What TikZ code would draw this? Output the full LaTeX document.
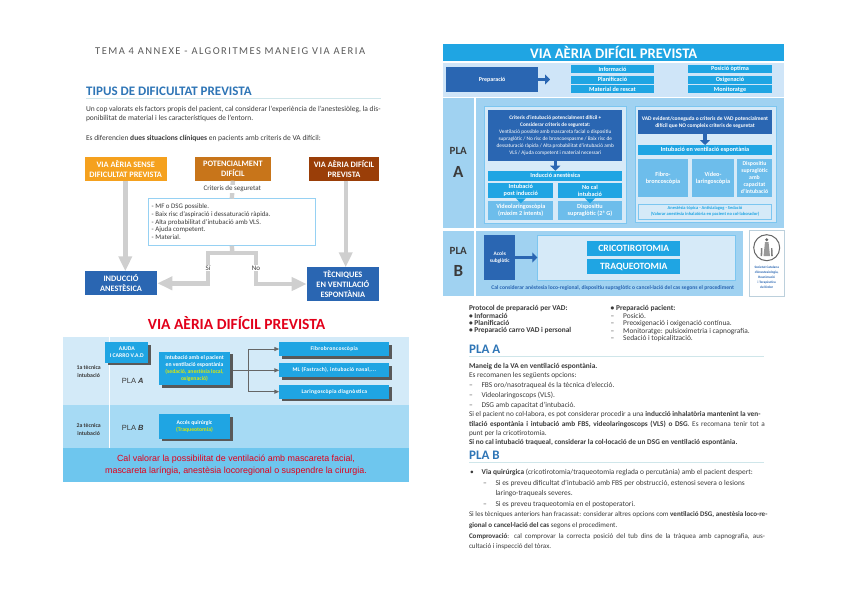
\documentclass[tikz,border=0pt]{standalone}
\usepackage{fontspec}
\setmainfont{Carlito}
\newfontfamily\narrowfont{Liberation Sans}
\usetikzlibrary{arrows.meta, shadows}
\definecolor{vorange}{HTML}{F5A11E}
\definecolor{vochre}{HTML}{C8751A}
\definecolor{vbrown}{HTML}{9A3E08}
\definecolor{vblue}{HTML}{2A66B2}
\definecolor{vcyan}{HTML}{1FA5E3}
\definecolor{vsky}{HTML}{6DBDEB}
\definecolor{vband}{HTML}{A0D2F1}
\definecolor{vpale}{HTML}{D6EAF8}
\definecolor{vprep}{HTML}{CFE5F8}
\definecolor{vrim}{HTML}{7CC6F0}
\definecolor{vgris}{HTML}{CFCFCF}
\definecolor{vhead}{HTML}{2E75B6}
\definecolor{vrule}{HTML}{CFE6EA}
\definecolor{vred}{HTML}{E2001A}
\definecolor{vtext}{HTML}{3A3A3A}
\definecolor{vbandA}{HTML}{D3EAF8}
\definecolor{vbandB}{HTML}{A6DAF4}
\definecolor{vbandC}{HTML}{6EC6EE}
\newcommand{\fsz}[2]{\fontsize{#1}{#2}\selectfont}
\newcommand{\dsh}{\makebox[12.5pt][l]{–}}
\newcommand{\jline}[1]{\makebox[296pt][s]{#1}}
\tikzset{
  panel/.style={inner sep=0pt, outer sep=0pt, align=center},
  flowbox/.style={panel, text=white, font=\fsz{8.3}{9.6}\bfseries},
  cbox/.style={panel, fill=vcyan, text=white, minimum height=8, font=\fsz{6.2}{6.8}\bfseries},
  dbox/.style={panel, fill=vblue, text=white, font=\fsz{5.3}{6.9}\bfseries},
  lbox/.style={panel, fill=vsky, text=white, font=\fsz{6.2}{7}\bfseries},
  rimbox/.style={panel, fill=vpale, draw=vrim, line width=0.8pt},
  shbox/.style={panel, fill=vcyan, text=white, font=\fsz{5.7}{7}\bfseries,
                general shadow={shadow xshift=2.5pt, shadow yshift=-2.5pt, fill=black!65}},
  rowbox/.style={shbox, minimum width=110, minimum height=14, font=\fsz{5.6}{7}\bfseries\addfontfeature{LetterSpace=5}},
  txt/.style={anchor=west, align=left, inner sep=0pt, outer sep=0pt, text=vtext,
              font=\fsz{7.4}{9.6}},
  heading/.style={anchor=west, inner sep=0pt, text=vhead, font=\fsz{13}{13}\bfseries},
  plalbl/.style={inner sep=0pt, text=vtext},
  smlbl/.style={fill=white, inner sep=1pt, text=vtext, font=\fsz{7}{8}},
  grisarr/.style={line width=4.4pt, vgris, -{Triangle[length=15pt, width=13pt]}},
  grislin/.style={line width=4.4pt, vgris},
  fatarr/.style={line width=3.6pt, vblue, -{Triangle[length=5pt, width=10pt]}},
  thinarr/.style={line width=1pt, black!60, -{Triangle[length=5pt, width=4pt]}},
}

\begin{document}
\begin{tikzpicture}[x=1pt, y=-1pt, >=Latex]
  \useasboundingbox (0,0) rectangle (848,599);

  %% ── left page: heading and intro ──
  \node[anchor=west, inner sep=0pt, text=black!65, font=\fsz{10.5}{12}\addfontfeature{LetterSpace=14}] (tema) at (95,50.7) {TEMA 4 ANNEXE - ALGORITMES MANEIG VIA AERIA};
  \node[heading] (tipus) at (86,91.6) {TIPUS DE DIFICULTAT PREVISTA};
  \draw[vrule, line width=1pt] (86,99) -- (381,99);
  \node[txt, font=\fsz{7.5}{9}] (intro) at (86,113.5) {Un cop valorats els factors propis del pacient, cal considerar l'experiència de l'anestesiòleg, la dis-\\ponibilitat de material i les característiques de l'entorn.};
  \node[txt, font=\fsz{7.5}{9}] (dues) at (86,138) {Es diferencien \textbf{dues situacions clíniques} en pacients amb criteris de VA difícil:};

  %% ── left page: flow chart ──
  \node[flowbox, fill=vorange, minimum width=82, minimum height=23.4] (sense) at (125.7,169) {VIA AÈRIA SENSE\\DIFICULTAT PREVISTA};
  \node[flowbox, fill=vochre, minimum width=75.7, minimum height=23.4] (poten) at (232.85,169) {POTENCIALMENT\\DIFÍCIL};
  \node[flowbox, fill=vbrown, minimum width=70, minimum height=23.4] (previst) at (344,169) {VIA AÈRIA DIFÍCIL\\PREVISTA};
  \node[flowbox, fill=vblue, minimum width=72.6, minimum height=24] (induc) at (121,283.3) {INDUCCIÓ\\ANESTÈSICA};
  \node[flowbox, fill=vblue, minimum width=72.3, minimum height=33.4] (tecn) at (342.85,284) {TÈCNIQUES\\EN VENTILACIÓ\\ESPONTÀNIA};
  \node[panel, fill=white, draw=vrim!80, line width=0.7pt, minimum width=166.3, minimum height=47] (crit) at (231.85,222.2) {};
  \node[txt, font=\fsz{6.9}{7.75}] (critxt) at (151.7,221.7) {- MF o DSG possible.\\- Baix risc d'aspiració i dessaturació ràpida.\\- Alta probabilitat d'intubació amb VLS.\\- Ajuda competent.\\- Material.};
  \draw[grisarr] (sense.south -| 125.3,0) -- (125.3,271.3);
  \draw[grisarr] (previst.south -| 345.7,0) -- (345.7,267.3);
  \draw[grislin] (poten.south) -- (crit.north);
  \node[smlbl] (segur) at (232.3,188.7) {Criteris de seguretat};
  \coordinate (branch) at (232.3,252.7);
  \coordinate (siC) at (208,252.7);
  \coordinate (noC) at (256,252.7);
  \draw[grislin] (crit.south) -- (branch);
  \draw[grisarr] (branch) -- (siC) |- (induc.east);
  \draw[grisarr] (branch) -- (noC) |- (tecn.west);
  \node[smlbl] (si) at (208,268) {Sí};
  \node[smlbl] (no) at (256,268) {No};

  %% ── left page: red algorithm ──
  \node[text=vred, inner sep=0pt, font=\fsz{15.5}{16}\bfseries] (titred) at (236.5,322.7) {VIA AÈRIA DIFÍCIL PREVISTA};
  \fill[vbandA] (63.3,336.7) rectangle (409,405);
  \fill[vbandB] (63.3,405) rectangle (409,448.3);
  \fill[vbandC] (63.3,448.3) rectangle (409,481.7);
  \draw[white, line width=1pt] (109.3,336.7) -- (109.3,448.3);
  \node[plalbl, align=center, font=\fsz{5.8}{8}\bfseries] (tec1) at (88.7,371) {1a tècnica\\intubació};
  \node[plalbl, align=center, font=\fsz{5.8}{8}\bfseries] (tec2) at (88.7,429) {2a tècnica\\intubació};
  \node[plalbl, font=\fsz{7.5}{8}\narrowfont] (plaA) at (132.7,380.7) {PLA \textbf{\textit{A}}};
  \node[plalbl, font=\fsz{7.5}{8}\narrowfont] (plaB) at (132.7,428.3) {PLA \textbf{\textit{B}}};
  \node[shbox, minimum width=43, minimum height=20.4] (ajuda) at (126.8,352.5) {AJUDA\\I CARRO V.A.D};
  \node[shbox, minimum width=71, minimum height=33.6] (intub) at (194.5,368.5) {Intubació amb el pacient\\en ventilació espontània\\{\color{yellow!85!green}(sedació, anestèsia local,}\\{\color{yellow!85!green}oxigenació)}};
  \node[shbox, minimum width=71, minimum height=24.4] (acces) at (194.5,426.5) {Accés quirúrgic\\{\color{yellow!85!green}(Traqueotomia)}};
  \node[rowbox] (fibro) at (334.3,349) {Fibrobroncoscòpia};
  \node[rowbox] (ml) at (334.3,370.3) {ML (Fastrach), intubació nasal,...};
  \node[rowbox] (laring) at (334.3,391.7) {Laringoscòpia diagnòstica};
  \coordinate (fork) at (248.3,370.3);
  \draw[thinarr] (intub.east |- ml.west) ++(2.5,0) -- (ml.west);
  \draw[thinarr] (fork) |- (fibro.west);
  \draw[thinarr] (fork) |- (laring.west);
  \node[text=vred, align=center, inner sep=0pt, font=\fsz{8.9}{12.6}\narrowfont] (cal) at (236,465) {Cal valorar la possibilitat de ventilació amb mascareta facial,\\mascareta laríngia, anestèsia locoregional o suspendre la cirurgia.};

  %% ── right page: header and preparation ──
  \node[panel, fill=vcyan, text=white, minimum width=340.7, minimum height=16.7, font=\fsz{14.6}{15}\bfseries] (bar) at (613.65,52.35) {VIA AÈRIA DIFÍCIL PREVISTA};
  \fill[vprep] (443.3,62.7) rectangle (784,97.3);
  \node[dbox, minimum width=92.3, minimum height=25.6, font=\fsz{6}{7}\bfseries] (prep) at (492.15,79.5) {Preparació};
  \coordinate (prepE) at (550,79.5);
  \draw[fatarr] (prep.east) -- (prepE);
  \node[cbox, minimum width=83.6] (info) at (612.5,69.3) {Informació};
  \node[cbox, minimum width=83.6] (plan) at (612.5,79.7) {Planificació};
  \node[cbox, minimum width=83.6] (mat) at (612.5,89.5) {Material de rescat};
  \node[cbox, minimum width=84] (posi) at (730,69.3) {Posició òptima};
  \node[cbox, minimum width=84] (oxig) at (730,79.7) {Oxigenació};
  \node[cbox, minimum width=84] (moni) at (730,89.5) {Monitoratge};

  %% ── right page: PLA A ──
  \fill[vband] (443.3,97.7) rectangle (474.3,228.3);
  \fill[vband] (476.3,97.7) rectangle (784,228.3);
  \node[plalbl, font=\fsz{11}{12}\bfseries] (laA1) at (458.3,150.7) {PLA};
  \node[plalbl, font=\fsz{17}{18}\bfseries] (laA2) at (458.3,171.7) {A};
  \node[rimbox, minimum width=141.7, minimum height=116.6] (pnA) at (555.15,165) {};
  \node[dbox, minimum width=134, minimum height=50.7] (pot) at (555.3,135.35) {Criteris d'intubació potencialment difícil +\\Considerar criteris de seguretat:\\{\mdseries Ventilació possible amb mascareta facial o dispositiu}\\{\mdseries supraglòtic / No risc de broncoespasme / Baix risc de}\\{\mdseries dessaturació ràpida / Alta probabilitat d'intubació amb}\\{\mdseries VLS / Ajuda competent i material necessari}};
  \node[cbox, minimum width=134, minimum height=10] (indA) at (555.3,175.7) {Inducció anestèsica};
  \node[cbox, minimum width=65, minimum height=15.6] (post) at (520.8,190.5) {Intubació\\post inducció};
  \node[cbox, minimum width=64.6, minimum height=15.6] (nocal) at (590,190.5) {No cal\\intubació};
  \node[lbox, minimum width=65, minimum height=19] (video) at (520.8,210.5) {Videolaringoscòpia\\(màxim 2 intents)};
  \node[lbox, minimum width=64.6, minimum height=19] (disp) at (590,210.5) {Dispositiu\\supraglòtic (2ª G)};
  \draw[fatarr] (pot.south) -- (indA.north);
  \fill[vcyan] (post.south) ++(-5,0) -- ++(10,0) -- ++(-5,5) -- cycle;
  \fill[vcyan] (nocal.south) ++(-5,0) -- ++(10,0) -- ++(-5,5) -- cycle;

  \node[rimbox, minimum width=141, minimum height=115.6] (pnA2) at (705.5,164.5) {};
  \node[dbox, font=\fsz{5.5}{6.9}\bfseries, minimum width=133.4, minimum height=24.3] (vadev) at (705,122.15) {VAD evident/coneguda o criteris de VAD potencialment\\difícil que NO compleix criteris de seguretat};
  \node[cbox, minimum width=133.4, minimum height=9.7] (esp) at (705,149.85) {Intubació en ventilació espontània};
  \draw[fatarr] (vadev.south) -- (esp.north);
  \node[lbox, minimum width=49.4, minimum height=37.7] (fbs) at (663,177.85) {Fibro-\\broncoscòpia};
  \node[lbox, minimum width=41.4, minimum height=37.7] (vls) at (713,177.85) {Vídeo-\\laringoscòpia};
  \node[lbox, minimum width=34.4, minimum height=37.7, font=\fsz{5.8}{7}\bfseries] (dsg) at (754.5,177.85) {Dispositiu\\supraglòtic\\amb\\capacitat\\d'intubació};
  \node[rimbox, text=vcyan, font=\fsz{4.5}{6}\bfseries, minimum width=133.4, minimum height=15.3] (topic) at (705,211.65) {Anestèsia tòpica - Antisialagog - Sedació\\(Valorar anestèsia inhalatòria en pacient no col·laborador)};

  %% ── right page: PLA B ──
  \fill[vband] (443.3,230.7) rectangle (474.3,296);
  \fill[vband] (476.3,230.7) rectangle (742.7,296);
  \node[plalbl, font=\fsz{11}{12}\bfseries] (laB1) at (458.3,251) {PLA};
  \node[plalbl, font=\fsz{17}{18}\bfseries] (laB2) at (458.3,270.5) {B};
  \node[dbox, minimum width=31, minimum height=45] (subg) at (499.8,257.5) {Accés\\subglòtic};
  \node[rimbox, minimum width=198.4, minimum height=45] (pnB) at (636.5,257.5) {};
  \draw[fatarr] (subg.east |- pnB.west) -- (pnB.west);
  \node[cbox, font=\fsz{9.6}{10}\bfseries, minimum width=93, minimum height=15.6] (cric) at (633.8,248.5) {CRICOTIROTOMIA};
  \node[cbox, font=\fsz{9.6}{10}\bfseries, minimum width=93, minimum height=15.6] (traq) at (633.8,266.5) {TRAQUEOTOMIA};
  \node[inner sep=0pt, text=vblue, font=\fsz{5.6}{7}\bfseries] (calB) at (612.7,288.3) {Cal considerar anèstesia loco-regional, dispositiu supraglòtic o cancel·lació del cas segons el procediment};

  %% ── right page: logo ──
  \node[panel, fill=white, draw=vrim!70!black!40, line width=1pt, minimum width=35.3, minimum height=65.3] (logo) at (766.65,263.35) {};
  \draw[black!60, fill=white, line width=1pt] (766.7,247.7) circle (13);
  \fill[black!60] (766.7,239.8) circle (1.6);
  \fill[black!40] (765,242) -- (768.5,242) -- (770,256) -- (763.5,256) -- cycle;
  \fill[black!50] (761,248) -- (762.4,248) -- (762.2,256) -- (760.6,256) -- cycle;
  \fill[black!50] (771,248) -- (772.4,248) -- (772.8,256) -- (771.2,256) -- cycle;
  \node[inner sep=0pt, align=center, text=vblue, font=\fsz{3.4}{5}\bfseries] (socie) at (766.7,277) {Societat Catalana\\d'Anestesiologia,\\Reanimació\\i Terapèutica\\del Dolor};

  %% ── right page: text ──
  \node[txt, font=\fsz{7.4}{7.4}\bfseries] (prot) at (469,319.8) {Protocol de preparació per VAD:\\• Informació\\• Planificació\\• Preparació carro VAD i personal};
  \node[txt, font=\fsz{7.4}{7.4}] (pacient) at (610.7,323.6) {\textbf{• Preparació pacient:}\\\dsh Posició.\\\dsh Preoxigenació i oxigenació contínua.\\\dsh Monitoratge: pulsioximetria i capnografia.\\\dsh Sedació i topicalització.};
  \node[heading] (headA) at (469,349.3) {PLA A};
  \draw[vrule, line width=1pt] (469,356.7) -- (764.3,356.7);
  \node[txt, font=\fsz{7.4}{9.6}\bfseries] (maneig) at (469,366.3) {Maneig de la VA en ventilació espontània.};
  \node[txt] (recom) at (469,375.3) {Es recomanen les següents opcions:};
  \node[txt, font=\fsz{7.4}{9.9}] (opcions) at (469,395.2) {\dsh FBS oro/nasotraqueal és la tècnica d'elecció.\\\dsh Videolaringoscops (VLS).\\\dsh DSG amb capacitat d'intubació.};
  \node[txt, font=\fsz{7.3}{9.3}] (colabora) at (469,428.7) {Si el pacient no col·labora, es pot considerar procedir a una \textbf{inducció inhalatòria mantenint la ven-}\\\jline{\textbf{tilació espontània i intubació amb FBS, videolaringoscops (VLS) o DSG}. Es recomana tenir tot a}\\punt per la cricotirotomia.\\\textbf{Si no cal intubació traqueal, considerar la col·locació de un DSG en ventilació espontània.}};
  \node[heading] (headB) at (469,455.7) {PLA B};
  \draw[vrule, line width=1pt] (469,462.7) -- (764.3,462.7);
  \node[txt] (quir) at (470,472.3) {\makebox[11.7pt][l]{•}\textbf{Via quirúrgica} (cricotirotomia/traqueotomia reglada o percutània) amb el pacient despert:};
  \node[txt, font=\fsz{7.4}{10.5}] (sies) at (483,493.8) {\dsh Si es preveu dificultat d'intubació amb FBS per obstrucció, estenosi severa o lesions\\\phantom{\dsh}laringo-traqueals severes.\\\dsh Si es preveu traqueotomia en el postoperatori.};
  \node[txt, font=\fsz{7.05}{10.7}] (fracas) at (469,531) {Si les tècniques anteriors han fracassat: considerar altres opcions com \textbf{ventilació DSG, anestèsia loco-re-}\\\textbf{gional o cancel·lació del cas} segons el procediment.\\\jline{\textbf{Comprovació}: cal comprovar la correcta posició del tub dins de la tràquea amb capnografia, aus-}\\cultació i inspecció del tòrax.};
\end{tikzpicture}
\end{document}
